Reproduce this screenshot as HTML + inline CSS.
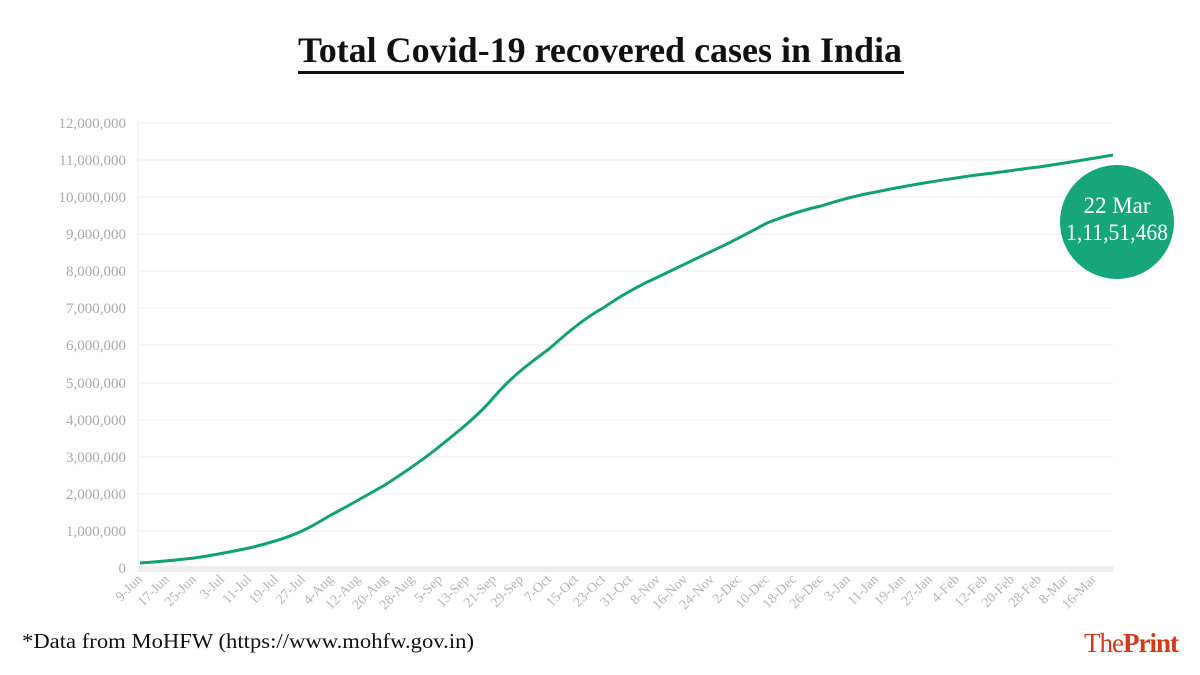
<!DOCTYPE html>
<html><head><meta charset="utf-8"><style>
html,body{margin:0;padding:0;background:#fff;}
svg{display:block;}
</style></head><body>
<svg width="1200" height="675" viewBox="0 0 1200 675" xmlns="http://www.w3.org/2000/svg" font-family="Liberation Serif, serif">
<rect width="1200" height="675" fill="#fff"/>
<text x="600" y="62" text-anchor="middle" font-size="36" font-weight="bold" fill="#111" textLength="604" lengthAdjust="spacingAndGlyphs">Total Covid-19 recovered cases in India</text>
<rect x="298" y="71" width="606" height="3" fill="#111"/>
<g stroke="#ececec" stroke-width="1">
<line x1="138" x2="1113" y1="123" y2="123"/><line x1="138" x2="1113" y1="160" y2="160"/><line x1="138" x2="1113" y1="197" y2="197"/><line x1="138" x2="1113" y1="234" y2="234"/><line x1="138" x2="1113" y1="271" y2="271"/><line x1="138" x2="1113" y1="308" y2="308"/><line x1="138" x2="1113" y1="345" y2="345"/><line x1="138" x2="1113" y1="383" y2="383"/><line x1="138" x2="1113" y1="420" y2="420"/><line x1="138" x2="1113" y1="457" y2="457"/><line x1="138" x2="1113" y1="494" y2="494"/><line x1="138" x2="1113" y1="531" y2="531"/>
<line x1="138" x2="138" y1="123" y2="568"/>
</g>
<rect x="138" y="566" width="975" height="6" fill="#eee"/>
<g font-size="15" fill="#aaa" text-anchor="end">
<text x="126" y="128">12,000,000</text><text x="126" y="165">11,000,000</text><text x="126" y="202">10,000,000</text><text x="126" y="239">9,000,000</text><text x="126" y="276">8,000,000</text><text x="126" y="313">7,000,000</text><text x="126" y="350">6,000,000</text><text x="126" y="388">5,000,000</text><text x="126" y="425">4,000,000</text><text x="126" y="462">3,000,000</text><text x="126" y="499">2,000,000</text><text x="126" y="536">1,000,000</text><text x="126" y="573">0</text>
</g>
<path d="M140,563 C170,561 185,559 194,558 C215,555 230,552 249,548 C270,543 290,537 304,530 C315,525 322,520 331,515 C350,505 367,495 385,485 C405,472 423,460 440,446 C460,430 480,414 494,397 C512,376 530,363 549,349 C568,332 585,318 603,308 C622,295 640,285 658,277 C677,268 695,259 712,251 C730,243 750,232 767,223 C785,216 803,210 821,206 C840,200 858,195 876,192 C895,188 912,185 930,182 C950,179 967,176 985,174 C1003,172 1020,169 1039,167 C1065,163 1090,159 1113,155" fill="none" stroke="#12a173" stroke-width="3"/>
<circle cx="1117" cy="222" r="57" fill="#16a67a"/>
<text x="1117" y="213" text-anchor="middle" font-size="23" fill="#fff">22 Mar</text>
<text x="1117" y="240" text-anchor="middle" font-size="23" fill="#fff" textLength="102" lengthAdjust="spacingAndGlyphs">1,11,51,468</text>
<text x="22" y="648" font-size="21" fill="#111" textLength="452" lengthAdjust="spacingAndGlyphs">*Data from MoHFW (https://www.mohfw.gov.in)</text>
<text x="1178" y="652" text-anchor="end" font-size="27" fill="#d23a1c" letter-spacing="-1">The<tspan font-weight="bold">Print</tspan></text>
<g font-size="14" fill="#b5b5b5" text-anchor="end">
<text transform="translate(143,580) rotate(-45)">9-Jun</text>
<text transform="translate(170,580) rotate(-45)">17-Jun</text>
<text transform="translate(197,580) rotate(-45)">25-Jun</text>
<text transform="translate(225,580) rotate(-45)">3-Jul</text>
<text transform="translate(252,580) rotate(-45)">11-Jul</text>
<text transform="translate(279,580) rotate(-45)">19-Jul</text>
<text transform="translate(306,580) rotate(-45)">27-Jul</text>
<text transform="translate(334,580) rotate(-45)">4-Aug</text>
<text transform="translate(361,580) rotate(-45)">12-Aug</text>
<text transform="translate(388,580) rotate(-45)">20-Aug</text>
<text transform="translate(415,580) rotate(-45)">28-Aug</text>
<text transform="translate(443,580) rotate(-45)">5-Sep</text>
<text transform="translate(470,580) rotate(-45)">13-Sep</text>
<text transform="translate(497,580) rotate(-45)">21-Sep</text>
<text transform="translate(524,580) rotate(-45)">29-Sep</text>
<text transform="translate(552,580) rotate(-45)">7-Oct</text>
<text transform="translate(579,580) rotate(-45)">15-Oct</text>
<text transform="translate(606,580) rotate(-45)">23-Oct</text>
<text transform="translate(633,580) rotate(-45)">31-Oct</text>
<text transform="translate(661,580) rotate(-45)">8-Nov</text>
<text transform="translate(688,580) rotate(-45)">16-Nov</text>
<text transform="translate(715,580) rotate(-45)">24-Nov</text>
<text transform="translate(742,580) rotate(-45)">2-Dec</text>
<text transform="translate(770,580) rotate(-45)">10-Dec</text>
<text transform="translate(797,580) rotate(-45)">18-Dec</text>
<text transform="translate(824,580) rotate(-45)">26-Dec</text>
<text transform="translate(851,580) rotate(-45)">3-Jan</text>
<text transform="translate(879,580) rotate(-45)">11-Jan</text>
<text transform="translate(906,580) rotate(-45)">19-Jan</text>
<text transform="translate(933,580) rotate(-45)">27-Jan</text>
<text transform="translate(960,580) rotate(-45)">4-Feb</text>
<text transform="translate(988,580) rotate(-45)">12-Feb</text>
<text transform="translate(1015,580) rotate(-45)">20-Feb</text>
<text transform="translate(1042,580) rotate(-45)">28-Feb</text>
<text transform="translate(1069,580) rotate(-45)">8-Mar</text>
<text transform="translate(1097,580) rotate(-45)">16-Mar</text>
</g>
</svg>
</body></html>
